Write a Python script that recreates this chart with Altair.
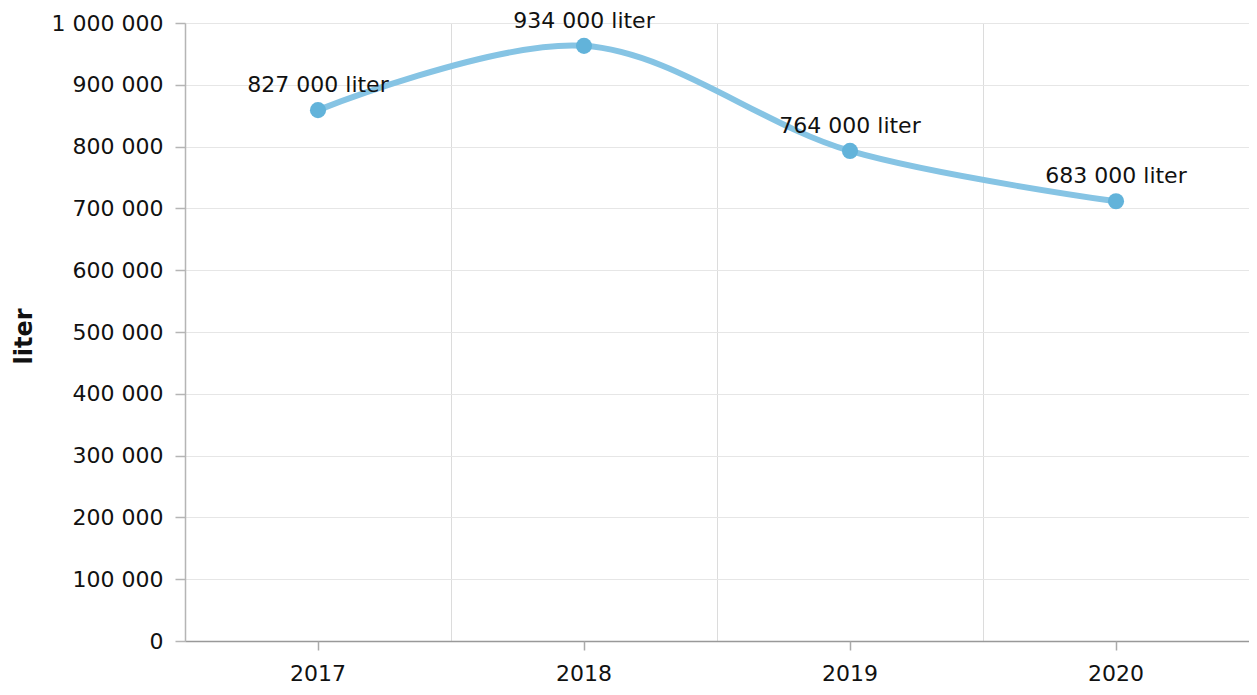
import altair as alt
import pandas as pd

# ---- data ----
years = ["2017", "2018", "2019", "2020"]
plotted_values = [859000, 963000, 793000, 711500]
point_labels = ["827 000 liter", "934 000 liter", "764 000 liter", "683 000 liter"]
y_tick_values = [0, 100000, 200000, 300000, 400000, 500000,
                 600000, 700000, 800000, 900000, 1000000]
y_title = "liter"

df = pd.DataFrame({"year": years, "value": plotted_values, "label": point_labels})

FONT = "DejaVu Sans"
FS = 22

xscale = alt.Scale(type="band", paddingInner=0, paddingOuter=0)
yscale = alt.Scale(domain=[0, 1000000], nice=False, zero=True)

y_axis = alt.Axis(
    values=y_tick_values,
    labelExpr="replace(replace(format(datum.value, ','), ',', ' '), ',', ' ')",
    grid=True, gridColor="#e6e6e6", gridWidth=1,
    domain=True, domainColor="#b5b5b5", domainWidth=1.5,
    ticks=True, tickColor="#b5b5b5", tickSize=10, tickWidth=1.5,
    labelPadding=12, labelFontSize=FS, labelFont=FONT, labelColor="#111111",
    title=y_title, titleFont=FONT, titleFontSize=24, titleFontWeight="bold",
    titleColor="#111111", titleAngle=-90, titleX=-154, titleY=313,
    titleAlign="center", titleBaseline="alphabetic",
)

x_axis_grid = alt.Axis(
    orient="bottom", grid=True, gridColor="#dcdcdc", gridWidth=1,
    tickBand="extent", ticks=False, labels=False,
    domain=True, domainColor="#999999", domainWidth=1.5, title=None,
)
x_axis_labels = alt.Axis(
    orient="bottom", grid=False, domain=False,
    ticks=True, tickSize=9, tickColor="#aaaaaa", tickWidth=1.5,
    labels=True, labelAngle=0, labelFontSize=FS, labelFont=FONT,
    labelColor="#111111", labelPadding=13, title=None,
)

Y = alt.Y("value:Q", scale=yscale, axis=y_axis)

base = alt.Chart(df)

line = base.mark_line(
    interpolate="catmull-rom", color="#86c4e4", strokeWidth=6
).encode(x=alt.X("year:O", scale=xscale, axis=x_axis_grid), y=Y)

points = base.mark_circle(size=260, color="#62b3da", opacity=1).encode(
    x=alt.X("year:O", scale=xscale, axis=x_axis_labels), y=Y
)

texts = base.mark_text(
    font=FONT, fontSize=FS, color="#111111", baseline="alphabetic",
    align="center", dy=-18,
).encode(x=alt.X("year:O", scale=xscale, axis=None), y=Y, text="label:N")

chart = (
    alt.layer(line, points, texts)
    .resolve_axis(x="independent")
    .properties(
        width=1064, height=618,
        autosize=alt.AutoSizeParams(type="none"),
        padding={"left": 177, "top": 15, "right": 0, "bottom": 46},
    )
    .configure_view(stroke=None)
    .configure(font=FONT)
)

chart.save("out.html", embed_options={"renderer": "svg", "actions": False})
